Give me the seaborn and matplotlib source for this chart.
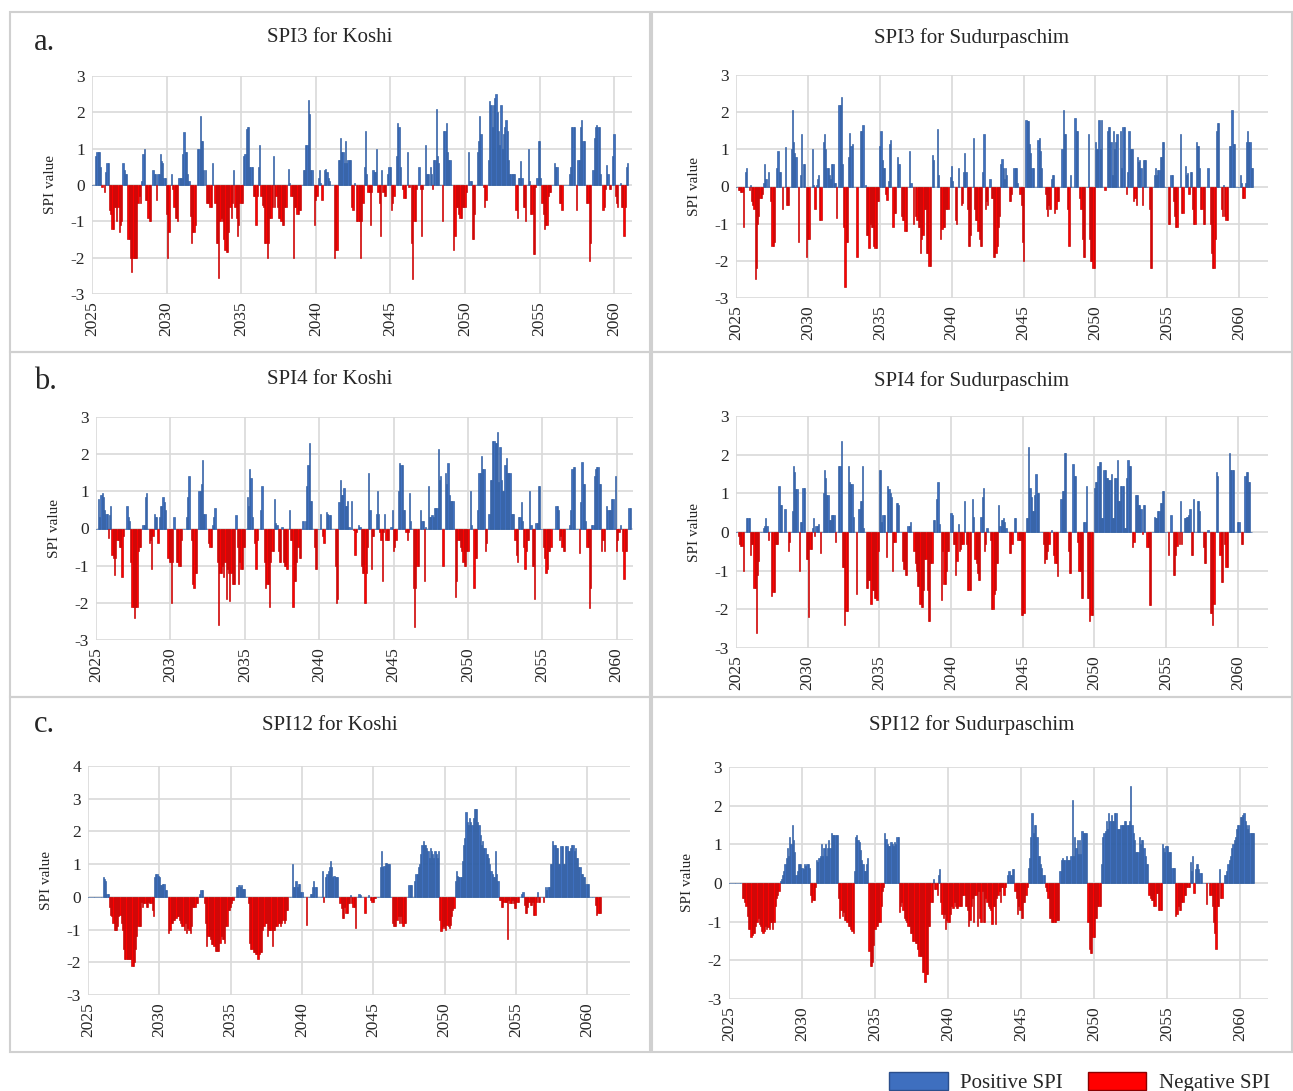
import numpy as np
import pandas as pd
import seaborn as sns
import matplotlib.pyplot as plt
from matplotlib.patches import Patch, Rectangle

# monthly SPI values, one row per year (Jan..Dec), 2025-2060
spi3_koshi = [
    [0, 0, 0, 0.8, 0.9, 0.9, 0.9, 0.5, -0.05, 0, -0.2, 0.35],
    [0.6, 0.6, -0.7, -0.8, -1.2, -1.2, -0.6, -0.6, -1.0, -0.6, -1.3, -1.1],
    [-1.0, 0.6, 0.4, 0.3, 0.3, -1.5, -1.5, -2.0, -2.4, -2.0, -2.0, -2.0],
    [-2.0, -0.5, -0.3, -0.5, 0.1, 0.85, 1.0, -0.4, -0.4, -0.9, -1.0, -1.0],
    [0.0, 0.4, 0.3, 0.3, -0.4, 0.3, 0.3, 0.85, 0.65, 0.6, 0.2, 0.2],
    [-0.8, -2.0, -1.3, 0.0, 0.3, -0.1, -0.6, -0.9, -0.9, -1.0, 0.2, 0.2],
    [0.2, 0.85, 1.45, 0.9, 0.9, 0.3, 0.1, -0.85, -1.6, -1.3, -1.3, -1.1],
    [0.0, 1.0, 1.0, 1.9, 1.2, 1.2, 0.4, 0.4, -0.5, -0.5, -0.5, -0.6],
    [-0.6, 0.6, 0.0, -0.5, -1.6, -1.6, -2.55, -1.0, -0.9, -1.0, -1.5, -1.8],
    [-1.85, -1.85, -1.3, -0.6, -0.9, -0.5, 0.4, -0.6, -0.9, -1.4, -1.1, -0.5],
    [-0.5, -0.5, 0.8, 0.85, 1.55, 1.6, 1.6, 0.5, 0.5, 0.5, -0.3, -0.3],
    [-1.1, -0.3, 0.5, 1.1, -0.3, -0.55, -0.6, -1.6, -1.6, -2.0, -1.6, -0.9],
    [-0.9, -0.6, 0.8, -0.6, -0.3, -0.6, -0.9, -0.9, -1.0, -1.1, -1.1, -0.6],
    [-0.6, 0.0, 0.45, 0.05, -0.3, -0.3, -2.0, -0.6, -0.6, -0.8, -0.8, -0.7],
    [-0.7, 0.0, 0.4, 0.4, 1.1, 1.1, 2.35, 1.95, 0.4, 0.4, 0.0, -1.1],
    [-0.4, -0.3, 0.2, 0.4, 0.05, -0.4, 0.0, 0.4, 0.45, 0.35, 0.2, 0.1],
    [0.0, 0.0, 0.0, -2.0, -1.8, -1.8, 0.7, 0.7, 1.3, 0.9, 0.9, 0.6],
    [1.2, 0.6, 0.7, 0.7, 0.7, -0.6, -0.7, 0.05, 0.0, -1.0, -1.0, -1.0],
    [-2.0, -1.0, -0.5, 0.5, 1.5, 0.3, -0.2, -0.2, -1.1, -0.2, 0.4, 0.35],
    [0.35, 1.0, -0.2, -0.5, -1.4, 0.4, -0.2, -0.3, -0.3, 0.0, 0.3, 0.5],
    [0.5, -0.7, -0.5, -0.3, 0.0, 0.8, 1.7, 1.6, 0.5, 0.0, -0.1, -0.35],
    [-0.35, 0.0, 0.9, -0.05, 0.0, -1.6, -2.6, -1.0, -1.0, -0.1, 0.0, 0.5],
    [-0.1, -1.4, -0.1, 0.0, 1.1, 0.3, 0.3, 0.3, 0.5, 0.3, -0.1, 0.7],
    [0.7, 2.1, 0.8, 0.6, 0.0, 0.0, -1.0, 1.5, 1.5, 1.7, 0.9, 0.7],
    [0.7, 0.0, 0.0, -1.8, -1.4, -0.6, -0.6, -0.8, -0.9, -0.9, -0.6, -0.6],
    [-0.6, -0.2, 0.0, 0.9, 0.1, 0.1, -1.5, -1.5, -0.8, 0.0, 0.9, 1.2],
    [1.9, 1.4, 0.0, -0.05, -0.6, -0.4, 0.0, 0.7, 2.3, 2.2, 1.6, 2.2],
    [2.4, 2.5, 2.0, 1.5, 1.1, 2.2, 1.0, 1.4, 1.6, 1.8, 1.5, 0.7],
    [0.3, 0.3, 0.3, 0.3, 0.3, -0.7, -0.9, 0.2, 0.2, 0.65, 0.2, -0.6],
    [-0.6, -1.0, 0.0, 1.0, 0.1, -0.8, -0.8, -1.9, -1.9, -0.05, 0.2, 1.2],
    [1.2, 0.2, -0.5, -0.8, -1.2, -1.1, -1.1, -0.3, -0.2, -0.2, 0.0, 0.0],
    [0.6, 0.5, 0.5, 0.0, -0.5, -0.5, -0.7, 0.0, 0.0, 0.0, 0.0, 0.0],
    [0.3, 0.5, 1.6, 1.6, 1.6, 0.0, -0.7, 0.7, 0.7, 1.6, 1.8, 1.2],
    [1.2, 0.0, -0.5, -0.5, -2.1, -1.6, 0.0, 0.4, 1.3, 1.6, 1.65, 1.6],
    [1.6, 0.3, 0.0, -0.7, -0.6, -0.1, 0.55, 0.3, -0.1, -0.1, 0.0, 0.8],
    [1.4, -0.3, -0.5, -0.6, 0.0, 0.05, -0.6, -0.6, -1.4, -0.6, 0.5, 0.6],
]

spi3_sudur = [
    [0, 0, -0.1, -0.1, -0.15, -0.15, -1.1, 0.0, 0.4, 0.5, 0.0, -0.1],
    [0.05, -0.4, -0.5, -0.6, -2.5, -2.2, -1.0, -0.8, -0.3, -0.3, -0.2, 0.1],
    [0.6, 0.2, 0.0, 0.4, 0.0, -0.4, -1.6, -1.6, -1.5, 0.0, 0.5, 0.95],
    [0.4, 0.4, 0.0, -0.6, 0.0, 1.05, -0.5, -0.5, -0.5, 0.0, 1.0, 2.05],
    [1.2, 0.9, 0.8, 0.0, -1.5, 0.0, 0.3, 1.4, 0.6, 0.6, 0.0, -1.9],
    [-1.4, -1.4, 0.0, 0.0, 1.0, 0.05, -0.6, 0.05, 0.2, 0.3, -0.9, -0.9],
    [0.0, 1.2, 1.4, 1.0, 0.5, 0.5, 0.3, 0.2, 0.6, 0.6, 0.1, 0.1],
    [-0.85, 0.0, 2.2, 2.2, 2.4, 0.6, -1.1, -2.7, -1.5, -1.5, 0.8, 1.45],
    [1.1, 1.15, 0.0, 0.0, 0.0, -1.9, 0.0, 0.0, 1.5, 1.5, 1.65, 0.0],
    [0.05, -1.3, -1.3, -1.65, -1.0, -1.1, -1.1, -1.6, -1.65, -1.65, -0.4, -0.4],
    [1.1, 1.5, 0.7, 0.5, 0.5, -0.2, -0.35, 0.15, 1.15, 1.25, 0.0, -1.1],
    [-0.7, -0.7, 0.0, 0.8, 0.6, 0.0, -0.8, -0.9, -0.9, -1.2, -1.2, 0.0],
    [0.0, 0.95, 0.1, 0.0, -1.0, 0.0, -0.8, -0.9, -1.1, -1.1, -1.8, -1.4],
    [-1.3, -0.6, -0.6, -1.8, -1.8, -2.15, -2.15, 0.0, 0.85, 0.7, 0.0, 0.0],
    [1.55, 0.3, 0.0, -1.4, -1.15, -1.1, -1.1, -0.6, -0.6, -0.6, 0.0, 0.25],
    [0.55, 0.15, 0.0, -0.9, -1.0, 0.0, 0.5, 0.0, -0.5, -0.45, 0.4, 0.9],
    [0.4, -0.6, -1.6, -1.6, -1.3, 0.0, 1.3, -0.6, -0.9, -0.9, -1.2, -1.4],
    [-1.6, -1.6, 0.4, 1.4, -0.6, -0.4, -0.5, 0.0, 0.2, -0.3, -0.3, -1.9],
    [-1.9, -1.8, -1.6, -1.1, -0.8, 0.6, 0.75, 0.5, 0.2, 0.5, 0.3, 0.0],
    [-0.4, -0.4, -0.2, 0.0, 0.5, 0.5, 0.5, 0.1, 0.0, -0.2, -0.5, -1.5],
    [-2.0, 0.0, 1.8, 1.75, 1.75, 1.15, 0.9, 0.5, 0.5, 0.0, 0.0, 0.0],
    [1.25, 1.3, 0.95, 0.5, 0.0, 0.0, -0.2, -0.6, -0.8, -0.5, -0.6, 0.2],
    [0.3, 0.3, -0.7, -0.6, -0.4, -0.4, 0.0, 0.0, 1.0, 2.05, 1.4, 1.4],
    [0.0, -0.6, -1.6, 0.3, 0.0, 0.0, 0.0, 1.85, 1.5, 1.5, 0.0, -0.3],
    [-0.6, -1.4, -1.9, -1.9, 0.0, 0.0, 1.4, -1.4, -2.0, -2.0, -2.2, -2.2],
    [1.2, 1.0, 1.0, 1.8, 1.0, 1.8, 0.0, 0.0, -0.1, 0.0, 1.5, 1.6],
    [1.6, 1.2, 0.3, 1.5, 1.0, 1.2, 1.4, 0.0, 0.0, 1.5, 0.5, 1.6],
    [1.6, 0.0, -0.2, 0.4, 1.5, 1.0, 1.0, 1.0, -0.4, -0.3, -0.5, 0.8],
    [0.65, 0.7, 0.5, -0.5, 0.7, 0.7, 0.7, 0.0, 0.0, -0.6, -2.2, -2.2],
    [0.0, 0.3, 0.5, 0.3, 0.45, 0.45, 0.8, 0.8, 1.2, 1.2, 0.0, 0.0],
    [0.0, -1.0, -1.0, 0.3, 0.3, -0.4, -0.8, -1.1, -1.1, 0.0, 0.0, 1.4],
    [-0.7, -0.7, 0.0, 0.55, 0.3, 0.35, -0.2, 0.4, 0.4, -0.6, -1.0, -1.0],
    [1.2, 1.1, 1.1, 0.5, -0.6, -0.6, -1.0, -1.0, 0.0, 0.0, 0.5, 0.0],
    [-1.0, -1.8, -2.2, -2.2, -1.4, 1.5, 1.7, 1.7, 0.0, -0.6, -0.8, 0.05],
    [-0.8, -0.9, -0.9, 0.0, 1.1, 1.1, 2.05, 1.15, 1.15, 0.0, 0.0, 0.0],
    [0.0, 0.3, 0.1, -0.3, -0.3, 0.1, 1.2, 1.5, 1.2, 1.2, 0.5, 0.5],
]

spi4_koshi = [
    [0, 0, 0.8, 0.3, 0.9, 0.95, 0.85, 0.5, 0.4, 0.4, -0.25, 0.35],
    [0.6, -0.7, -0.8, -1.25, -0.8, -0.3, -0.3, -0.5, -0.5, -1.3, -0.2, 0.0],
    [0.0, 0.6, 0.3, 0.2, -0.9, -2.1, -2.1, -2.4, -2.1, -2.1, -0.6, -0.5],
    [-0.5, 0.0, 0.1, 0.1, 0.85, 0.95, 0.0, -0.4, -0.3, -1.1, -0.2, 0.4],
    [0.3, 0.3, -0.4, 0.3, 0.6, 0.6, 0.85, 0.7, 0.5, 0.0, -0.8, -0.9],
    [-0.9, -2.0, -0.9, 0.3, 0.0, -0.9, -0.9, -1.0, -1.0, -0.3, 0.0, 0.0],
    [0.0, 0.3, 0.85, 1.4, 0.0, -0.3, -1.5, -1.6, -1.2, -1.2, 0.0, 1.0],
    [1.0, 1.2, 1.85, 0.4, 0.4, 0.0, 0.0, -0.4, -0.5, -0.5, 0.1, 0.3],
    [0.55, 0.0, -0.9, -2.6, -1.2, -1.2, -1.0, -1.3, -0.9, -1.9, -1.1, -1.2],
    [-1.95, -1.2, -1.5, -1.5, -1.5, 0.35, -0.5, -1.5, -0.9, -1.1, -1.1, -0.5],
    [-0.5, 0.0, 0.85, 0.6, 1.6, 1.35, 0.3, 0.0, -0.4, -1.1, -0.3, 0.0],
    [0.0, 0.5, 1.15, 0.0, -0.9, -1.6, -1.5, -1.5, -2.1, -0.9, -0.6, -0.6],
    [0.8, 0.15, 0.1, -0.6, -0.9, -0.9, 0.05, -0.9, -1.0, -1.0, -1.1, 0.0],
    [0.5, -0.3, -0.3, -2.1, -1.4, -1.4, -0.9, -0.5, -0.8, -0.8, 0.0, 0.2],
    [0.0, 0.2, 1.15, 1.7, 2.3, 0.75, 0.75, 0.0, -0.5, -1.1, -1.1, 0.0],
    [0.0, 0.4, 0.0, -0.2, -0.4, 0.0, 0.45, 0.4, 0.35, 0.35, 0.0, 0.0],
    [0.0, -1.0, -2.0, -1.9, 0.7, 1.3, 0.9, 0.9, 1.1, 0.6, 0.6, 0.75],
    [0.05, 0.0, 0.75, 0.0, -0.05, -0.7, -0.1, 0.0, 0.1, 0.05, -1.0, -1.2],
    [-1.2, -2.0, -1.2, -0.5, 1.5, 0.5, -1.1, -0.2, -0.2, 0.0, 0.4, 1.0],
    [0.4, -0.1, -0.3, -1.4, -0.1, 0.4, -0.3, -0.3, -0.3, 0.0, 0.05, 0.5],
    [-0.6, -0.5, -0.3, 0.0, 1.0, 1.75, 1.7, 1.7, 0.5, 0.5, -0.1, -0.3],
    [-0.1, 0.95, 0.2, 0.0, -1.6, -2.65, -1.6, -1.0, -1.0, 0.0, 0.5, 0.2],
    [0.2, -1.4, 0.05, 0.0, 1.15, 0.3, 0.3, 0.35, 0.3, 0.55, 0.55, 0.55],
    [2.15, 1.3, 1.4, 0.0, -1.0, 0.0, 1.5, 1.2, 1.75, 0.9, 0.75, 0.75],
    [0.75, 0.0, -1.85, -1.4, -0.3, -0.3, -0.5, -0.6, -0.9, -1.0, -1.0, -0.6],
    [-0.6, 0.0, 1.0, 0.1, 0.0, -1.6, -0.8, -0.8, 0.5, 1.5, 1.5, 1.95],
    [1.6, 1.6, -0.6, -0.4, 0.0, 0.4, 1.3, 1.3, 2.35, 2.35, 2.3, 2.3],
    [2.6, 1.25, 2.2, 1.3, 1.0, 1.0, 1.7, 1.9, 1.5, 1.5, 1.5, 0.4],
    [0.4, 0.4, -0.3, -0.7, -0.9, 0.3, 0.3, 0.7, 0.2, -0.5, -1.1, -0.6],
    [-0.3, -0.3, 1.0, 0.1, -1.0, -1.0, -1.9, 0.15, 0.15, 1.15, 1.15, 0.0],
    [0.0, -0.5, -0.8, -1.2, -1.1, -0.6, -0.6, -0.5, 0.0, 0.0, 0.0, 0.6],
    [0.6, 0.5, -0.3, -0.2, -0.5, -0.6, -0.6, 0.0, 0.0, 0.0, 0.1, 0.5],
    [1.6, 1.65, 1.65, 0.0, 0.0, 0.0, -0.65, 0.7, 1.8, 1.2, 1.2, 0.2],
    [-0.5, -0.5, -2.15, -1.6, 0.1, 0.1, 1.4, 1.6, 1.65, 1.65, 1.2, 1.2],
    [-0.6, -0.3, -0.6, 0.0, 0.6, 0.5, 0.5, 0.5, 0.8, 0.8, 0.0, 1.4],
    [-0.6, -0.3, -0.1, 0.1, 0.0, -0.6, -1.35, -0.6, -0.6, 0.0, 0.55, 0.55],
]

spi4_sudur = [
    [0, 0, -0.1, -0.3, -0.35, -0.35, -1.0, 0.0, 0.0, 0.35, 0.35, 0.35],
    [-0.6, -0.3, -0.3, -1.45, -1.45, -2.6, -1.1, -0.75, 0.0, 0.0, 0.0, 0.1],
    [0.15, 0.35, 0.15, -0.2, 0.0, 0.0, -1.65, -1.55, -1.55, -0.3, -0.3, -0.3],
    [1.2, 0.7, 0.7, 0.0, 0.0, 0.6, 0.0, 0.0, -0.5, -0.25, 0.0, 0.55],
    [1.7, 1.55, 1.1, 1.1, 0.0, -1.0, 0.25, 0.25, 1.15, 1.15, 0.0, -0.7],
    [-0.7, -2.2, -0.45, -0.45, 0.1, 0.35, -0.1, 0.15, 0.15, 0.2, 0.0, -0.55],
    [0.0, 1.0, 1.6, 1.4, 0.95, 0.95, 0.3, 0.3, 0.45, 0.45, 0.45, -0.25],
    [0.0, 0.0, 1.7, 1.7, 2.35, -0.9, -0.9, -2.4, -2.05, -2.05, 1.7, 1.3],
    [1.25, 1.25, 0.4, 0.0, 0.0, -1.6, 0.0, 0.6, 0.8, 0.8, 1.7, 0.1],
    [0.0, -1.45, -1.45, -1.25, -1.25, -1.85, -1.5, -1.5, -1.7, -1.7, -1.75, -0.5],
    [1.6, 1.6, 0.25, 0.45, 0.45, 0.0, -0.65, 1.2, 1.1, 1.0, 0.9, -1.0],
    [-0.25, -0.25, 0.75, 0.75, 0.7, 0.0, 0.0, -0.75, -0.95, -0.95, -1.1, -1.1],
    [0.15, 0.15, 0.25, 0.0, 0.0, -0.5, -0.8, -1.0, -1.4, -1.4, -1.85, -1.95],
    [-1.95, -1.5, -0.7, -0.7, -1.5, -2.3, -2.3, -0.8, -0.8, 0.3, 0.3, 0.0],
    [0.85, 1.3, 0.2, 0.0, -1.75, -0.5, -1.35, -1.35, -1.0, -0.5, -0.5, 0.0],
    [0.5, 0.45, -0.3, -0.3, -1.1, -0.75, 0.2, -0.5, -0.45, -0.3, -0.3, 0.8],
    [0.0, -0.3, -1.5, -1.5, -1.5, 0.0, 0.85, 0.4, -0.7, -0.8, -1.05, -1.25],
    [-1.25, 0.4, 0.9, 1.15, -0.5, -0.3, 0.1, 0.0, 0.0, -0.2, -2.0, -2.0],
    [-1.6, -1.5, -0.8, -0.8, 0.7, 0.15, 0.3, 0.3, 0.35, 0.25, 0.1, 0.0],
    [0.0, -0.55, -0.55, -0.3, 0.0, 0.35, 0.35, 0.0, -0.2, -0.2, -0.2, -2.15],
    [-2.15, -2.1, 0.0, 0.35, 0.35, 2.2, 1.15, 0.9, 0.55, 0.55, 0.95, 1.5],
    [1.0, 1.0, 0.0, 0.0, 0.0, -0.3, -0.8, -0.7, -0.7, -0.5, -0.3, 0.0],
    [0.05, 0.0, -0.6, -0.8, -0.8, -1.15, 0.0, 0.0, 0.85, 1.05, 1.05, 2.05],
    [2.05, 0.0, -0.5, -1.05, -1.05, 0.0, 1.75, 1.45, 1.45, 0.0, -0.25, -1.0],
    [-1.0, -1.7, -1.7, 0.25, 0.25, 1.2, -1.7, -1.7, -2.3, -2.15, -2.15, 0.0],
    [1.15, 1.3, 1.3, 1.7, 1.8, 1.8, 0.35, 0.35, 1.6, 1.6, 1.4, 1.4],
    [1.35, 1.35, 1.5, 0.35, 0.35, 1.4, 1.4, 1.85, 0.8, 0.8, 1.2, 1.2],
    [1.2, 0.1, 0.1, 1.4, 1.85, 1.7, 1.7, 0.0, -0.4, -0.25, 0.95, 0.95],
    [0.95, 0.7, 0.7, 0.6, -0.05, 0.7, 0.7, 0.0, -0.4, -0.4, -1.9, -1.9],
    [0.0, 0.0, 0.4, 0.35, 0.35, 0.55, 0.55, 0.75, 0.75, 1.05, 1.05, 0.0],
    [0.0, 0.0, -0.6, 0.0, 0.45, 0.0, -1.1, -1.1, -0.6, -0.35, 0.0, -0.3],
    [0.8, -0.3, 0.0, 0.35, 0.35, 0.4, 0.4, 0.45, 0.6, -0.6, -0.6, 0.85],
    [0.0, 0.0, 0.8, 0.8, 0.55, 0.0, 0.0, -0.4, -0.8, -0.8, 0.0, 0.05],
    [0.0, -2.1, -2.1, -2.4, -1.85, 0.0, 1.55, 1.45, 0.0, -0.6, -1.3, -1.3],
    [0.0, -0.3, -0.9, -0.9, 0.0, 2.05, 1.6, 1.6, 1.6, 0.0, 0.0, 0.0],
    [0.25, 0.25, 0.0, -0.3, -0.3, 0.0, 1.45, 1.55, 1.55, 1.3, 1.3, 0.0],
]

spi12_koshi = [
    [0, 0, 0, 0, 0, 0, 0, 0, 0, 0, 0, 0],
    [0.0, 0.6, 0.55, 0.5, 0.1, 0.1, -0.3, -0.55, -0.6, -0.8, -1.0, -1.0],
    [-1.0, -0.9, -0.6, -0.55, -0.8, -1.0, -1.6, -1.9, -1.9, -1.9, -1.9, -1.9],
    [-1.9, -2.1, -2.1, -2.0, -1.6, -1.2, -0.9, -0.9, -0.9, -0.15, -0.3, -0.2],
    [-0.2, -0.3, -0.3, -0.15, -0.2, -0.2, -0.4, -0.6, 0.6, 0.7, 0.7, 0.65],
    [0.6, 0.35, 0.35, 0.4, 0.4, 0.2, 0.2, 0.0, -1.1, -1.0, -0.8, -0.8],
    [-0.7, -0.7, -0.65, -0.6, -0.6, -0.7, -0.8, -0.9, -0.9, -1.0, -0.8, -1.1],
    [-0.95, -1.0, -1.1, -0.9, -0.3, -0.3, -0.3, -0.2, -0.2, 0.0, 0.1, 0.2],
    [0.2, 0.0, -0.2, -0.8, -1.5, -1.2, -1.2, -1.3, -1.45, -1.45, -1.5, -1.65],
    [-1.65, -1.65, -1.65, -1.4, -1.2, -1.3, -1.3, -1.4, -0.9, -0.9, -0.4, -0.4],
    [-0.3, -0.2, -0.1, 0.0, 0.0, 0.3, 0.3, 0.35, 0.3, 0.35, 0.25, 0.25],
    [0.25, 0.0, 0.0, -0.2, -1.4, -1.6, -1.6, -1.7, -1.7, -1.75, -1.75, -1.9],
    [-1.75, -1.7, -1.7, -1.0, -0.9, -0.8, -0.8, -1.2, -1.0, -1.0, -1.0, -1.5],
    [-1.0, -1.0, -0.9, -0.9, -0.8, -0.8, -0.9, -0.8, -0.7, -0.8, -0.7, -0.4],
    [-0.4, 0.0, 0.0, 0.0, 1.0, 0.3, 0.3, 0.5, 0.3, 0.4, 0.4, 0.15],
    [0.15, 0.0, 0.0, 0.0, -0.85, 0.0, 0.0, 0.1, 0.1, 0.3, 0.5, 0.3],
    [0.3, 0.0, 0.0, 0.0, 0.0, 0.8, -0.15, 0.0, 0.6, 0.7, 0.8, 0.9],
    [1.1, 0.9, 0.6, 0.65, 0.6, 0.6, 0.6, 0.0, -0.2, -0.35, -0.65, -0.65],
    [-0.3, -0.5, -0.5, -0.2, -0.2, 0.05, -0.2, -0.3, -0.3, -0.95, 0.0, 0.0],
    [0.1, 0.05, 0.0, 0.0, 0.0, -0.5, 0.0, 0.0, 0.05, 0.0, -0.1, -0.15],
    [-0.15, -0.05, -0.05, 0.0, 0.0, 0.0, 0.9, 1.4, 0.9, 0.95, 1.05, 1.05],
    [1.0, 1.0, 1.0, 0.0, -0.8, -0.9, -0.9, -0.9, -0.7, -0.6, -0.8, -0.6],
    [-0.8, -0.9, -0.8, -0.8, 0.0, 0.0, 0.35, 0.35, 0.35, 0.0, 0.0, 0.5],
    [0.7, 0.7, 0.9, 1.0, 1.3, 1.6, 1.7, 1.6, 1.6, 1.5, 1.4, 1.2],
    [1.5, 1.4, 1.3, 1.2, 1.4, 1.3, 1.2, 1.4, -0.7, -1.05, -0.95, -0.9],
    [-0.95, -1.0, -0.85, -0.9, -0.95, -0.85, -0.6, -0.4, -0.35, 0.5, 0.8, 0.65],
    [0.6, 0.6, 0.6, 1.1, 1.6, 1.8, 2.6, 2.3, 2.2, 2.4, 2.3, 2.2],
    [2.4, 2.7, 2.7, 2.7, 2.3, 2.2, 1.9, 1.6, 1.7, 1.5, 1.5, 1.3],
    [1.3, 1.2, 1.0, 0.8, 0.7, 0.6, 0.6, 1.4, 0.7, 0.5, -0.1, -0.1],
    [-0.3, -0.3, -0.15, -0.15, -0.15, -1.3, -0.1, -0.2, -0.2, -0.1, -0.2, -0.35],
    [-0.35, -0.15, -0.15, 0.0, 0.0, 0.1, 0.15, -0.25, -0.5, -0.5, -0.3, -0.15],
    [-0.25, -0.25, -0.15, -0.55, -0.55, -0.15, 0.15, -0.15, -0.15, 0.0, 0.0, -0.15],
    [0.0, 0.3, 0.2, 0.3, 0.3, 1.0, 1.0, 1.7, 1.6, 1.6, 1.5, 1.5],
    [1.0, 1.0, 1.55, 1.55, 1.0, 1.0, 1.55, 1.55, 1.4, 1.4, 1.5, 1.6],
    [1.6, 1.4, 1.5, 1.2, 1.2, 0.9, 0.9, 0.7, 0.7, 0.6, 0.6, 0.4],
    [0.4, 0.4, 0.0, 0.0, 0.0, 0.0, 0.0, -0.25, -0.55, -0.5, -0.5, -0.5],
]

spi12_sudur = [
    [0, 0, 0, 0, 0, 0, 0, 0, 0, 0, 0, -0.4],
    [-0.4, -0.5, -0.6, -0.85, -1.2, -1.2, -1.4, -1.35, -1.3, -1.3, -1.1, -1.0],
    [-0.9, -1.05, -1.1, -1.25, -1.3, -1.25, -1.1, -1.2, -1.15, -1.2, -1.0, -1.0],
    [-1.2, -1.0, -0.6, -0.4, -0.3, -0.2, 0.05, 0.1, 0.2, 0.3, 0.5, 0.65],
    [0.9, 0.7, 1.2, 1.0, 1.5, 1.1, 0.8, 0.2, 0.3, 0.5, 0.5, 0.5],
    [0.4, 0.35, 0.5, 0.45, 0.5, 0.5, 0.4, -0.3, -0.5, -0.45, -0.45, -0.1],
    [0.6, 0.55, 0.65, 0.7, 1.0, 0.7, 0.9, 1.0, 0.7, 0.9, 1.1, 0.9],
    [1.3, 1.25, 1.25, 1.25, 1.25, 1.25, -0.4, -0.9, -0.7, -0.85, -0.75, -0.95],
    [-0.95, -1.0, -1.1, -1.1, -1.2, -1.25, -1.3, 0.3, 1.2, 1.25, 1.1, 1.05],
    [0.85, 0.6, 0.5, 0.3, 0.3, 0.5, 0.65, -1.75, -2.15, -2.15, -2.05, -1.6],
    [-1.2, -1.1, -1.1, -1.0, -1.0, -0.6, -0.2, -0.1, 1.3, 1.15, 1.0, 0.95],
    [0.95, 1.05, 1.0, 0.95, 1.05, 1.0, 1.2, 1.2, -0.75, -0.6, -0.5, -0.7],
    [-0.9, -0.95, -1.0, -1.1, -1.1, -1.3, -1.3, -1.5, -1.5, -1.55, -1.55, -1.7],
    [-1.9, -1.9, -1.9, -2.3, -2.3, -2.55, -2.35, -2.35, -1.1, -1.1, -0.5, -0.5],
    [0.1, -0.15, -0.15, -0.3, 0.2, 0.35, -0.5, -0.8, -0.9, -0.8, -1.2, -0.95],
    [-1.0, -1.0, -0.8, -0.6, -0.65, -0.5, -0.6, -0.65, -0.65, -0.6, -0.6, -0.6],
    [-0.3, -0.3, -0.6, -0.6, -0.7, -1.1, -0.95, -0.6, -0.4, -1.0, -0.3, -0.3],
    [-1.1, -0.2, -0.9, -1.0, -0.2, -1.0, -1.0, -0.4, -0.5, -0.6, -0.65, -0.7],
    [-1.05, -0.6, -0.6, -1.05, -0.4, -0.3, -0.2, -0.5, -0.1, -0.1, -0.3, -0.1],
    [0.0, 0.2, 0.3, 0.2, 0.2, 0.35, 0.35, -0.2, -0.4, -0.8, -0.6, -0.7],
    [-0.9, -0.9, -0.5, -0.5, -0.3, -0.1, 0.4, 0.65, 1.2, 1.8, 1.3, 1.5],
    [1.5, 1.2, 0.7, 0.7, 0.5, 0.4, 0.2, 0.2, -0.1, -0.2, -0.4, -0.9],
    [-0.9, -1.0, -1.0, -1.0, -1.0, -0.95, -0.95, -0.95, 0.3, 0.6, 0.65, 0.6],
    [0.6, 0.7, 0.6, 0.6, 0.6, 0.7, 2.15, 0.7, 1.2, 0.9, 1.1, 0.75],
    [1.1, 0.75, 1.35, 1.3, 1.3, 1.3, 1.3, -1.0, -1.7, -1.8, -1.8, -1.4],
    [-1.4, -0.9, -0.9, -0.6, -0.6, -0.6, 0.5, 1.2, 1.3, 1.35, 1.6, 1.4],
    [1.8, 1.6, 1.75, 1.6, 1.6, 1.8, 1.8, 1.4, 1.4, 1.4, 1.5, 1.5],
    [1.5, 1.6, 1.6, 1.5, 1.5, 1.6, 2.5, 1.5, 1.3, 1.1, 0.8, 0.8],
    [0.8, 1.2, 1.0, 1.1, 1.1, 0.9, 0.7, 0.5, 0.5, -0.3, -0.4, -0.45],
    [-0.45, -0.6, -0.6, -0.25, -0.25, -0.7, -0.7, -0.7, 1.0, 0.9, 0.8, 0.95],
    [0.95, 0.8, 0.8, 0.8, 0.4, 0.4, 0.4, -0.85, -0.8, -0.6, -0.7, -0.7],
    [-0.5, -0.5, -0.3, -0.3, -0.1, -0.1, -0.1, 0.55, 0.3, 0.7, -0.25, 0.35],
    [0.5, 0.5, 0.35, 0.25, 0.25, 0.0, 0.0, 0.0, -0.55, 0.0, 0.0, -0.3],
    [-0.3, -0.6, -1.0, -1.3, -1.7, -0.6, -0.6, 0.35, -0.4, -0.4, 0.0, 0.2],
    [0.2, 0.3, 0.5, 0.6, 0.7, 0.9, 1.0, 1.1, 1.2, 1.4, 1.5, 1.5],
    [1.7, 1.7, 1.75, 1.8, 1.6, 1.5, 1.4, 1.5, 1.3, 1.3, 1.3, 1.3],
]

years = np.arange(2025, 2061)
months = np.arange(12)
t = (years[:, None] + months[None, :] / 12).ravel()

W, H = 1293, 1091

# title, data, axes box in px (left, top, right, bottom), y range, x max, title y px, column
panels = [
    ("SPI3 for Koshi", spi3_koshi, (92, 76, 632, 294), (-3, 3), 2061.2, 38, 0),
    ("SPI3 for Sudurpaschim", spi3_sudur, (736, 75, 1268, 298), (-3, 3), 2062.0, 38, 1),
    ("SPI4 for Koshi", spi4_koshi, (96, 417, 633, 640), (-3, 3), 2061.1, 379, 0),
    ("SPI4 for Sudurpaschim", spi4_sudur, (736, 416, 1268, 648), (-3, 3), 2062.1, 381, 1),
    ("SPI12 for Koshi", spi12_koshi, (88, 766, 630, 995), (-3, 4), 2063.0, 726, 0),
    ("SPI12 for Sudurpaschim", spi12_sudur, (729, 767, 1268, 999), (-3, 3), 2061.9, 725, 1),
]

pos_col = "#3E6FBF"
neg_col = "#FF0000"

sns.set_theme(style="white")
plt.rcParams["font.family"] = ["Liberation Serif", "DejaVu Serif"]
plt.rcParams["axes.unicode_minus"] = False

fig = plt.figure(figsize=(W / 100, H / 100), dpi=100)

# light frames around each panel cell
cells = [(10, 12, 650, 352), (652, 12, 1292, 352),
         (10, 352, 650, 697), (652, 352, 1292, 697),
         (10, 697, 650, 1052), (652, 697, 1292, 1052)]
for x0, y0, x1, y1 in cells:
    fig.patches.append(Rectangle((x0 / W, 1 - y1 / H), (x1 - x0) / W, (y1 - y0) / H,
                                 transform=fig.transFigure, fill=False,
                                 edgecolor="#d0d0d0", linewidth=1.5))

for title, vals, (x0, y0, x1, y1), (ymin, ymax), xmax, ty, col in panels:
    ax = fig.add_axes([x0 / W, 1 - y1 / H, (x1 - x0) / W, (y1 - y0) / H])
    spi = np.array(vals, dtype=float).ravel()
    df = pd.DataFrame({"t": t, "spi": spi})
    df["sign"] = np.where(df["spi"] >= 0, "Positive SPI", "Negative SPI")
    sns.barplot(data=df, x="t", y="spi", hue="sign",
                hue_order=["Positive SPI", "Negative SPI"],
                palette={"Positive SPI": pos_col, "Negative SPI": neg_col},
                native_scale=True, dodge=False, width=1.0, errorbar=None,
                saturation=1, legend=False, linewidth=0, ax=ax)
    # thin darker outline like the original Excel bars
    for p in ax.patches:
        p.set_edgecolor("#2F5C9F" if p.get_height() >= 0 else "#C00000")
        p.set_linewidth(0.45)
    ax.set_xlim(2025, xmax)
    ax.set_ylim(ymin, ymax)
    ax.set_yticks(range(ymin, ymax + 1))
    ax.set_xticks(range(2025, 2061, 5))
    ax.set_xticklabels([str(y) for y in range(2025, 2061, 5)], rotation=90)
    ax.grid(True, color="#d9d9d9", linewidth=1.2)
    ax.set_axisbelow(True)
    for s in ax.spines.values():
        s.set_visible(False)
    ax.tick_params(length=0, labelsize=12.5, pad=5)
    ax.set_xlabel("")
    ax.set_ylabel("SPI value", fontsize=11, labelpad=10)
    cx = (cells[0][0] + cells[0][2]) / 2 if col == 0 else (cells[1][0] + cells[1][2]) / 2
    fig.text(cx / W, 1 - ty / H, title, ha="center", va="center", fontsize=15)

for lab, y in [("a.", 42), ("b.", 382), ("c.", 724)]:
    fig.text(34 / W, 1 - y / H, lab, ha="left", va="center", fontsize=22)

handles = [Patch(facecolor=pos_col, edgecolor="#2b4f8c"),
           Patch(facecolor=neg_col, edgecolor="#8b0000")]
fig.legend(handles, ["Positive SPI", "Negative SPI"], loc="lower right",
           bbox_to_anchor=(1272 / W, -0.004), ncol=2, frameon=False, fontsize=15,
           handlelength=2.8, handleheight=1.0, columnspacing=1.2,
           handletextpad=0.6, borderaxespad=0, borderpad=0.1)

fig.savefig("out.png", dpi=100)
